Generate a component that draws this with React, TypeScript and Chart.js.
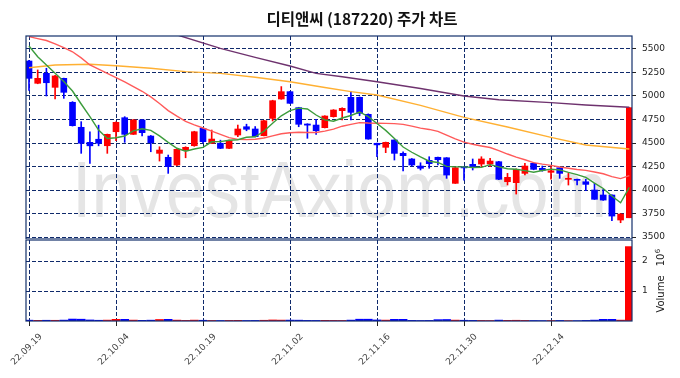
import React, { useEffect, useRef } from 'react';
import { Chart, registerables } from 'chart.js';

Chart.register(...registerables);

const TITLE = '디티앤씨 (187220) 주가 차트';
const WATERMARK = 'InvestAxiom.com';

const dates = [
  '22.09.19','22.09.20','22.09.21','22.09.22','22.09.23','22.09.26','22.09.27','22.09.28','22.09.29','22.09.30',
  '22.10.04','22.10.05','22.10.06','22.10.07','22.10.11','22.10.12','22.10.13','22.10.14','22.10.17','22.10.18',
  '22.10.19','22.10.20','22.10.21','22.10.24','22.10.25','22.10.26','22.10.27','22.10.28','22.10.31','22.11.01',
  '22.11.02','22.11.03','22.11.04','22.11.07','22.11.08','22.11.09','22.11.10','22.11.11','22.11.14','22.11.15',
  '22.11.16','22.11.17','22.11.18','22.11.21','22.11.22','22.11.23','22.11.24','22.11.25','22.11.28','22.11.29',
  '22.11.30','22.12.01','22.12.02','22.12.05','22.12.06','22.12.07','22.12.08','22.12.09','22.12.12','22.12.13',
  '22.12.14','22.12.15','22.12.16','22.12.19','22.12.20','22.12.21','22.12.22','22.12.23','22.12.26','22.12.27',
];

const opens = [
  5372,5135,5241,5092,5188,4933,4667,4507,4540,4471,
  4620,4769,4592,4745,4574,4390,4348,4266,4425,4471,
  4656,4497,4497,4443,4585,4673,4649,4578,4762,4968,
  5046,4876,4702,4691,4663,4780,4844,4986,4986,4805,
  4497,4454,4532,4390,4330,4255,4316,4348,4343,4071,
  4248,4273,4276,4276,4301,4088,4078,4177,4284,4231,
  4188,4237,4114,4114,4088,4000,3947,3947,3681,3705,
];
const highs = [
  5380,5277,5295,5220,5190,4940,4727,4620,4690,4595,
  4725,4780,4750,4750,4580,4460,4372,4440,4460,4625,
  4660,4638,4530,4530,4691,4700,4675,4740,4955,5100,
  5050,4880,4705,4752,4790,4855,4875,5046,4990,4810,
  4500,4510,4535,4407,4335,4290,4354,4350,4345,4245,
  4250,4330,4354,4337,4305,4177,4225,4284,4290,4255,
  4248,4240,4177,4115,4114,4071,4007,3950,3750,4876,
];
const lows = [
  5060,5130,5000,4968,4975,4680,4390,4284,4470,4390,
  4524,4507,4590,4574,4407,4308,4177,4260,4343,4465,
  4500,4495,4440,4440,4567,4630,4565,4575,4734,4965,
  4920,4673,4550,4592,4660,4775,4745,4745,4790,4540,
  4354,4397,4319,4202,4255,4213,4231,4266,4124,4070,
  4106,4213,4245,4248,4110,4053,3957,4160,4215,4200,
  4114,4124,4053,4053,3993,3900,3890,3673,3652,3705,
];
const closes = [
  5188,5188,5141,5213,5039,4684,4497,4470,4497,4592,
  4720,4592,4745,4610,4503,4425,4248,4433,4454,4620,
  4514,4542,4443,4524,4649,4646,4567,4737,4950,5046,
  4922,4699,4690,4631,4787,4851,4869,4826,4816,4542,
  4480,4507,4390,4365,4266,4231,4280,4322,4159,4237,
  4235,4241,4330,4308,4114,4135,4220,4255,4220,4210,
  4205,4177,4124,4103,4060,3901,3893,3723,3744,4876,
];
const volumes = [
  28000,22000,25000,24000,30000,65000,60000,35000,25000,30000,
  55000,55000,30000,22000,28000,50000,55000,30000,20000,30000,
  25000,18000,15000,20000,22000,15000,18000,25000,35000,30000,
  30000,28000,20000,18000,22000,20000,18000,30000,60000,60000,
  35000,30000,55000,55000,20000,15000,18000,45000,50000,30000,
  25000,20000,18000,15000,30000,22000,25000,20000,15000,12000,
  15000,18000,12000,10000,20000,30000,55000,55000,30000,2480000,
];

// moving-average values read from the picture where the earlier history is not shown
const ma5Head = [5532, 5418, 5330, 5241];
const ma20Head = [5631,5610,5590,5555,5515,5470,5405,5330,5285,5240,5195,5150,5100,5050,4990,4920,4845,4785,4730];
const ma60Idx = [0,3,7,10,14,18,22,26,30,34,37,40,45,50,55,60,64,69];
const ma60Val = [5300,5330,5337,5322,5295,5259,5241,5200,5152,5090,5046,5010,4900,4773,4670,4560,4479,4436];
const ma120Idx = [0,17,22,26,30,33,36,40,45,50,54,60,64,69];
const ma120Val = [6160,5650,5507,5410,5319,5241,5205,5152,5080,5000,4960,4929,4904,4880];

const priceTicks = [3500,3750,4000,4250,4500,4750,5000,5250,5500];
const volumeTicks = [1000000, 2000000];
const dateTickIdx = [0,10,20,30,40,50,60];

const UP = '#ff0000';
const DOWN = '#0000ff';
const GRID = '#0f2a6b';
const FRAME = '#13306b';
const X_MIN = -0.345;
const X_MAX = 69.31;

function movingAvg(n: number, head: number[]) {
  return closes.map((_, i) => {
    if (i < n - 1) return { x: i, y: head[i] };
    let s = 0;
    for (let k = i - n + 1; k <= i; k++) s += closes[k];
    return { x: i, y: s / n };
  });
}

const zeroPad = (s: any) => {
  s.paddingTop = 0; s.paddingBottom = 0; s.paddingLeft = 0; s.paddingRight = 0;
};

const framePlugin = {
  id: 'frame',
  afterDraw(chart: any) {
    const { ctx, chartArea: a } = chart;
    ctx.save();
    ctx.strokeStyle = FRAME;
    ctx.lineWidth = 1.2;
    ctx.strokeRect(a.left, a.top, a.right - a.left, a.bottom - a.top);
    ctx.restore();
  },
};

const pricePlugin = {
  id: 'priceDecor',
  beforeDraw(chart: any) {
    const { ctx } = chart;
    ctx.save();
    ctx.fillStyle = '#ffffff';
    ctx.fillRect(0, 0, chart.width, chart.height);
    ctx.font = '80px "Liberation Sans", Arial, sans-serif';
    ctx.fillStyle = '#e5e5e5';
    ctx.textAlign = 'left';
    ctx.textBaseline = 'alphabetic';
    ctx.fillText(WATERMARK, 72, 217, 535);
    ctx.restore();
  },
  afterDraw(chart: any) {
    const { ctx } = chart;
    ctx.save();
    ctx.font = 'bold 15.5px "Noto Sans CJK KR", "Noto Sans", sans-serif';
    ctx.fillStyle = '#111';
    ctx.textAlign = 'center';
    ctx.textBaseline = 'middle';
    ctx.fillText(TITLE, 362, 19);
    ctx.restore();
  },
};

const volumePlugin = {
  id: 'volDecor',
  beforeDraw(chart: any) {
    const { ctx } = chart;
    ctx.save();
    ctx.fillStyle = '#ffffff';
    ctx.fillRect(0, 0, chart.width, chart.height);
    ctx.restore();
  },
  afterDraw(chart: any) {
    const { ctx } = chart;
    ctx.save();
    ctx.translate(664, 54);
    ctx.rotate(-Math.PI / 2);
    ctx.fillStyle = '#222';
    ctx.textAlign = 'center';
    ctx.textBaseline = 'alphabetic';
    ctx.font = '10px "DejaVu Sans", sans-serif';
    ctx.fillText('Volume', 0, 0);
    ctx.fillText('10', 34, 0);
    ctx.font = '7px "DejaVu Sans", sans-serif';
    ctx.fillText('6', 43, -4);
    ctx.restore();
  },
};

export default function App() {
  const refA = useRef<HTMLCanvasElement>(null);
  const refB = useRef<HTMLCanvasElement>(null);

  useEffect(() => {
    document.body.style.margin = '0';
    const idx = closes.map((_, i) => i);
    const colors = idx.map((i) => (closes[i] >= opens[i] ? UP : DOWN));

    const ma5 = movingAvg(5, ma5Head);
    const ma20 = movingAvg(20, ma20Head);
    const ma60 = ma60Idx.map((x, k) => ({ x, y: ma60Val[k] }));
    const ma120 = ma120Idx.map((x, k) => ({ x, y: ma120Val[k] }));

    const lineDs = (label: string, data: any[], color: string) => ({
      type: 'line' as const,
      label,
      data,
      borderColor: color,
      borderWidth: 1.4,
      pointRadius: 0,
      tension: 0,
      order: 0,
    });

    const xBase = {
      type: 'linear' as const,
      min: X_MIN,
      max: X_MAX,
      offset: false,
      afterBuildTicks: (s: any) => { s.ticks = dateTickIdx.map((v) => ({ value: v })); },
    };

    const chartA = new Chart(refA.current!, {
      type: 'bar',
      data: {
        datasets: [
          lineDs('MA5', ma5, '#3c9c3c'),
          lineDs('MA20', ma20, '#ff5a5a'),
          lineDs('MA60', ma60, '#ffb032'),
          lineDs('MA120', ma120, '#6e326e'),
          {
            type: 'bar',
            label: 'wick',
            data: idx.map((i) => ({ x: i, y: [lows[i], highs[i]] })) as any,
            backgroundColor: colors,
            barThickness: 1,
            grouped: false,
            order: 2,
          },
          {
            type: 'bar',
            label: 'body',
            data: idx.map((i) => ({ x: i, y: [Math.min(opens[i], closes[i]), Math.max(opens[i], closes[i])] })) as any,
            backgroundColor: colors,
            barThickness: 6,
            minBarLength: 1,
            grouped: false,
            order: 1,
          },
        ] as any,
      },
      options: {
        animation: false,
        responsive: false,
        events: [],
        layout: { padding: { left: 26, top: 36, right: 0, bottom: 1 } },
        plugins: { legend: { display: false }, tooltip: { enabled: false }, title: { display: false } },
        scales: {
          x: {
            ...xBase,
            afterFit: (s: any) => { s.height = 0; zeroPad(s); },
            ticks: { display: false },
            grid: { color: GRID, lineWidth: 1, drawTicks: false, offset: false },
            border: { display: false, dash: [4, 2] },
          } as any,
          y: {
            type: 'linear',
            position: 'right',
            min: 3479,
            max: 5638,
            afterBuildTicks: (s: any) => { s.ticks = priceTicks.map((v) => ({ value: v })); },
            afterFit: (s: any) => { s.width = 48; zeroPad(s); },
            ticks: {
              font: { family: 'DejaVu Sans', size: 9 },
              color: '#222',
              padding: 6,
              callback: (v: any) => String(v),
            },
            grid: { color: GRID, lineWidth: 1, drawTicks: true, tickLength: 4, tickColor: '#222', tickWidth: 1 },
            border: { display: false, dash: [4, 2] },
          } as any,
        },
      },
      plugins: [pricePlugin, framePlugin],
    });

    const chartB = new Chart(refB.current!, {
      type: 'bar',
      data: {
        datasets: [
          {
            label: 'Volume',
            data: idx.map((i) => ({ x: i, y: volumes[i] })) as any,
            backgroundColor: colors,
            barThickness: 8,
            grouped: false,
          },
        ],
      },
      options: {
        animation: false,
        responsive: false,
        events: [],
        layout: { padding: { left: 26, top: 0, right: 0, bottom: 0 } },
        plugins: { legend: { display: false }, tooltip: { enabled: false }, title: { display: false } },
        scales: {
          x: {
            ...xBase,
            afterFit: (s: any) => { s.height = 57; zeroPad(s); },
            ticks: {
              autoSkip: false,
              minRotation: 45,
              maxRotation: 45,
              labelOffset: 12,
              padding: 5.5,
              font: { family: 'DejaVu Sans', size: 9 },
              color: '#444',
              callback: (v: any) => dates[v] ?? '',
            },
            grid: { color: GRID, lineWidth: 1, drawTicks: true, tickLength: 5, tickColor: '#222', tickWidth: 1, offset: false },
            border: { display: false, dash: [4, 2] },
          } as any,
          y: {
            type: 'linear',
            position: 'right',
            min: 0,
            max: 2700000,
            afterBuildTicks: (s: any) => { s.ticks = volumeTicks.map((v) => ({ value: v })); },
            afterFit: (s: any) => { s.width = 48; zeroPad(s); },
            ticks: {
              font: { family: 'DejaVu Sans', size: 9 },
              color: '#222',
              padding: 6,
              callback: (v: any) => String(v / 1000000),
            },
            grid: { color: GRID, lineWidth: 1, drawTicks: true, tickLength: 4, tickColor: '#222', tickWidth: 1 },
            border: { display: false, dash: [4, 2] },
          } as any,
        },
      },
      plugins: [volumePlugin, framePlugin],
    });

    return () => {
      chartA.destroy();
      chartB.destroy();
    };
  }, []);

  return (
    <div style={{ position: 'relative', width: 680, height: 378, background: '#fff' }}>
      <canvas ref={refA} width={680} height={240} style={{ position: 'absolute', left: 0, top: 0 }} />
      <canvas ref={refB} width={680} height={138} style={{ position: 'absolute', left: 0, top: 240 }} />
    </div>
  );
}
